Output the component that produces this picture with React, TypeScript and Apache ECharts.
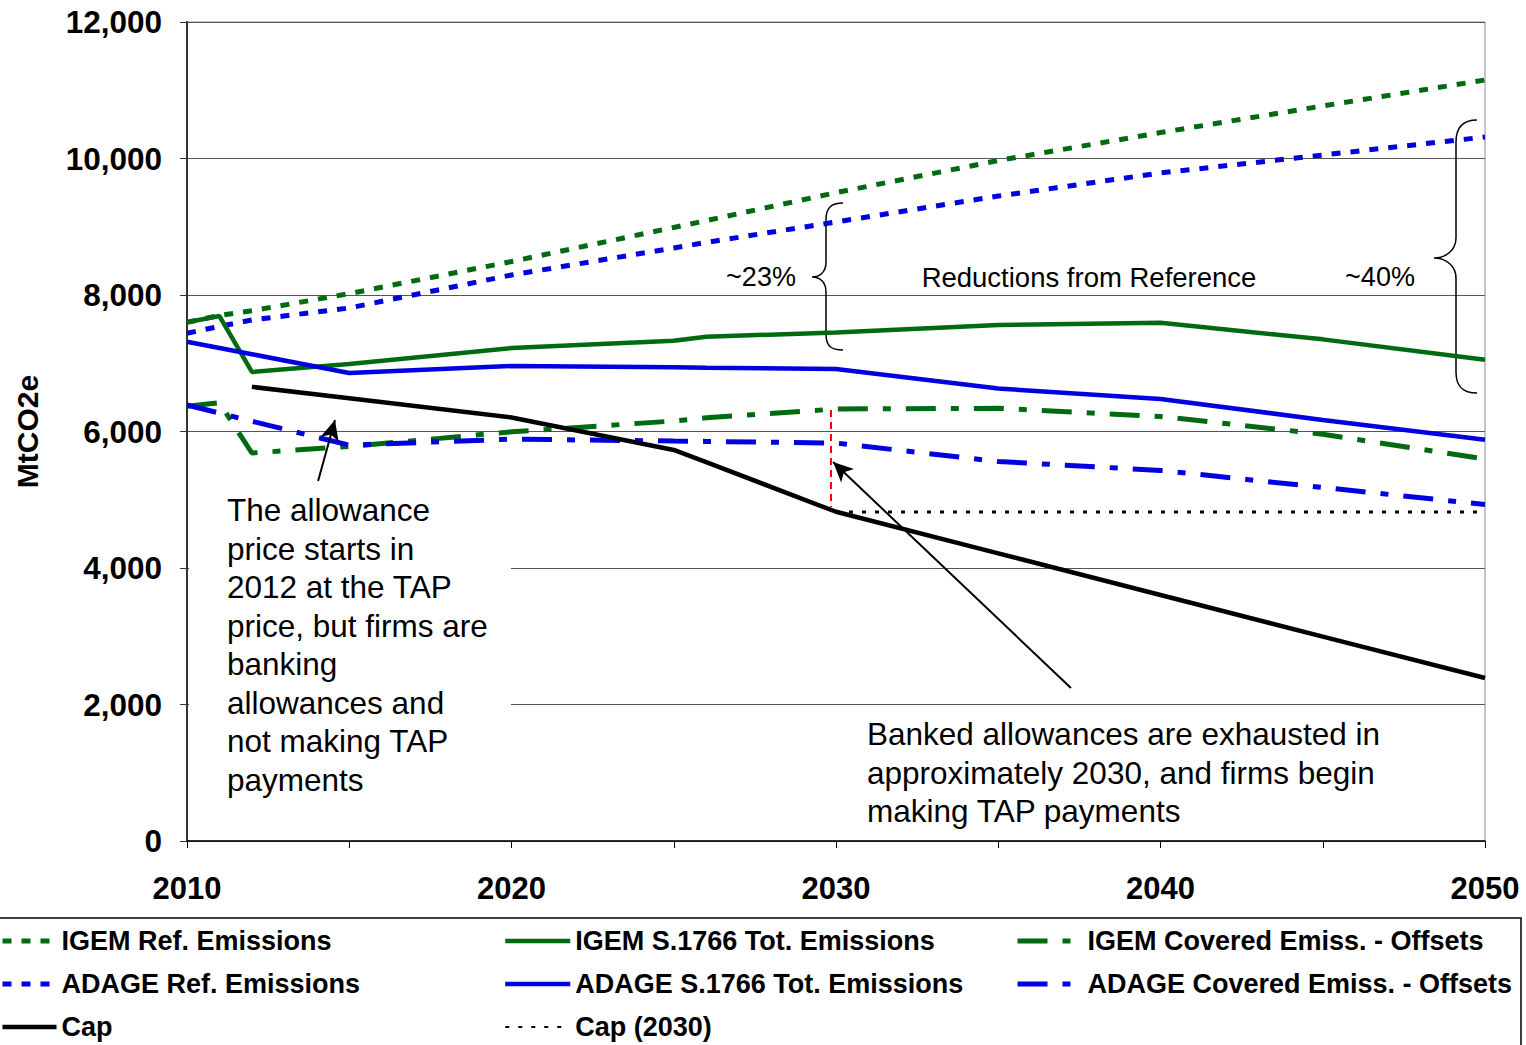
import React, { useEffect, useRef } from "react";
import * as echarts from "echarts";

const FONT = "Liberation Sans, Arial, sans-serif";

const years = [2010, 2011, 2012, 2015, 2020, 2025, 2026, 2030, 2035, 2040, 2045, 2050];
const igemRef = [7600, 7700, 7770, 8020, 8490, 8990, 9090, 9500, 9970, 10380, 10770, 11150];
const adageRef = [7440, 7540, 7634, 7810, 8293, 8689, 8770, 9070, 9450, 9788, 10051, 10315];
const igemTot = [7600, 7692, 6872, 6989, 7223, 7330, 7389, 7450, 7560, 7594, 7350, 7050];
const adageTot = [7316, 7224, 7132, 6857, 6960, 6940, 6935, 6916, 6630, 6476, 6170, 5880];
const igemCov = [6370, 6420, 5685, 5780, 5995, 6154, 6200, 6330, 6340, 6220, 5960, 5597];
const adageCov = [6388, 6270, 6150, 5800, 5888, 5860, 5855, 5831, 5560, 5430, 5180, 4930];
const cap = [null, null, 6654, 6486, 6205, 5730, 5550, 4824, 4215, 3604, 2995, 2388];
const cap2030 = [null, null, null, null, null, null, null, 4820, 4820, 4820, 4820, 4820];

const yTicks = { min: 0, max: 12000, interval: 2000 };
const xTicks = { min: 2010, max: 2050, interval: 10 };

const seriesNames = {
  igemRef: "IGEM Ref. Emissions",
  adageRef: "ADAGE Ref. Emissions",
  cap: "Cap",
  igemTot: "IGEM S.1766 Tot. Emissions",
  adageTot: "ADAGE S.1766 Tot. Emissions",
  cap2030: "Cap (2030)",
  igemCov: "IGEM Covered Emiss. - Offsets",
  adageCov: "ADAGE Covered Emiss. - Offsets",
};

// annotation anchor points (data coordinates)
const arrow1 = [[2014.04, 5275], [2014.56, 6168]];
const arrow2 = [[2037.24, 2242], [2029.91, 5553]];
const redLine = [[2029.85, 6315], [2029.85, 4894]];

const leftNote = "The allowance\nprice starts in\n2012 at the TAP\nprice, but firms are\nbanking\nallowances and\nnot making TAP\npayments";
const rightNote = "Banked allowances are exhausted in\napproximately 2030, and firms begin\nmaking TAP payments";

const GREEN = "#006a10";
const BLUE = "#0000e0";

echarts.graphic.registerShape(
  "brace1",
  echarts.graphic.extendPath(
    "M843,203 C831,203 826,208 826,220 L826,262 C826,272 820,277 812,277 C820,277 826,282 826,292 L826,334 C826,346 831,350 843,350",
    {}
  )
);
echarts.graphic.registerShape(
  "brace2",
  echarts.graphic.extendPath(
    "M1477,120 C1462,120 1456,128 1456,142 L1456,238 C1456,250 1446,258 1434,258 C1446,258 1456,266 1456,278 L1456,372 C1456,386 1462,393 1477,393",
    {}
  )
);

function pairs(vals: (number | null)[]) {
  const out: [number, number][] = [];
  vals.forEach((v, i) => {
    if (v !== null) out.push([years[i], v]);
  });
  return out;
}

function lineSeries(name: string, vals: (number | null)[], color: string, type: any, width: number, extra: any = {}) {
  return {
    name,
    type: "line",
    data: pairs(vals),
    symbol: "none",
    lineStyle: { color, type, width, cap: "butt" },
    itemStyle: { color },
    ...extra,
  };
}

function legendItem(name: string, width: number) {
  return { name, itemStyle: { opacity: 0 }, lineStyle: { width } };
}

export default function App() {
  const ref = useRef<HTMLDivElement>(null);
  useEffect(() => {
    const chart = echarts.init(ref.current!, null, { renderer: "svg" });
    const legendBase = {
      orient: "vertical",
      top: 926,
      padding: 0,
      itemHeight: 14,
      itemGap: 13,
      selectedMode: false,
      itemStyle: { opacity: 0 },
      textStyle: { fontFamily: FONT, fontSize: 27, fontWeight: "bold", color: "#000", lineHeight: 30 },
    };
    const option = {
      animation: false,
      backgroundColor: "#fff",
      grid: {
        left: 187,
        right: 41,
        top: 22,
        bottom: 204,
        show: true,
        borderColor: "#8c8c8c",
        borderWidth: 1,
        containLabel: false,
        outerBoundsMode: "none",
      },
      xAxis: {
        type: "value",
        min: xTicks.min,
        max: xTicks.max,
        interval: xTicks.interval,
        axisLine: { show: true, lineStyle: { color: "#000", width: 1.5 } },
        axisTick: { show: true, length: 7, lineStyle: { color: "#000" } },
        minorTick: { show: true, splitNumber: 2, length: 7, lineStyle: { color: "#000" } },
        splitLine: { show: false },
        axisLabel: {
          formatter: (v: number) => String(v),
          fontFamily: FONT,
          fontSize: 31,
          fontWeight: "bold",
          color: "#000",
          margin: 32,
        },
      },
      yAxis: {
        type: "value",
        min: yTicks.min,
        max: yTicks.max,
        interval: yTicks.interval,
        name: "MtCO2e",
        nameLocation: "middle",
        nameGap: 145,
        nameRotate: 90,
        nameTextStyle: { fontFamily: FONT, fontSize: 30, fontWeight: "bold", color: "#000" },
        axisLine: { show: true, lineStyle: { color: "#333", width: 2 } },
        axisTick: { show: true, length: 7, lineStyle: { color: "#333" } },
        splitLine: { show: true, lineStyle: { color: "#555", width: 1 } },
        axisLabel: { fontFamily: FONT, fontSize: 31.5, fontWeight: "bold", color: "#000", margin: 25 },
      },
      legend: [
        {
          ...legendBase,
          left: 0,
          itemWidth: 54,
          data: [legendItem(seriesNames.igemRef, 5), legendItem(seriesNames.adageRef, 5), legendItem(seriesNames.cap, 4.5)],
        },
        {
          ...legendBase,
          left: 503,
          itemWidth: 65,
          data: [legendItem(seriesNames.igemTot, 4.5), legendItem(seriesNames.adageTot, 4.5), legendItem(seriesNames.cap2030, 2)],
        },
        {
          ...legendBase,
          left: 1015,
          itemWidth: 65,
          data: [legendItem(seriesNames.igemCov, 5), legendItem(seriesNames.adageCov, 5)],
        },
      ],
      series: [
        lineSeries(seriesNames.igemRef, igemRef, GREEN, [9, 10], 5),
        lineSeries(seriesNames.adageRef, adageRef, BLUE, [9, 10], 5),
        lineSeries(seriesNames.igemTot, igemTot, GREEN, "solid", 4.5),
        lineSeries(seriesNames.adageTot, adageTot, BLUE, "solid", 4.5),
        lineSeries(seriesNames.igemCov, igemCov, GREEN, [30, 15, 8, 15], 5),
        lineSeries(seriesNames.adageCov, adageCov, BLUE, [30, 15, 8, 15], 5),
        lineSeries(seriesNames.cap2030, cap2030, "#000", [4, 9], 3),
        lineSeries(seriesNames.cap, cap, "#000", "solid", 4.5, {
          markLine: {
            silent: true,
            animation: false,
            label: { show: false },
            symbolSize: [14, 20],
            data: [
              [
                { coord: arrow1[0], symbol: "none", lineStyle: { color: "#000", width: 2, type: "solid" } },
                { coord: arrow1[1], symbol: "arrow" },
              ],
              [
                { coord: arrow2[0], symbol: "none", lineStyle: { color: "#000", width: 2, type: "solid" } },
                { coord: arrow2[1], symbol: "arrow" },
              ],
              [
                { coord: redLine[0], symbol: "none", lineStyle: { color: "#ff0000", width: 2, type: [7, 5] } },
                { coord: redLine[1], symbol: "none" },
              ],
            ],
          },
        }),
      ],
      graphic: [
        { type: "rect", z: 1, shape: { x: 189, y: 490, width: 322, height: 312 }, style: { fill: "#fff" } },
        {
          type: "text",
          z: 3,
          x: 227,
          y: 491,
          style: { text: leftNote, fontFamily: FONT, fontSize: 31.5, lineHeight: 38.5, fill: "#000" },
        },
        {
          type: "text",
          z: 3,
          x: 867,
          y: 715,
          style: { text: rightNote, fontFamily: FONT, fontSize: 31.5, lineHeight: 38.5, fill: "#000" },
        },
        {
          type: "text",
          z: 3,
          x: 761,
          y: 277,
          style: { text: "~23%", fontFamily: FONT, fontSize: 27, fill: "#000", align: "center", verticalAlign: "middle" },
        },
        {
          type: "text",
          z: 3,
          x: 1089,
          y: 277,
          style: { text: "Reductions from Reference", fontFamily: FONT, fontSize: 27.5, fill: "#000", align: "center", verticalAlign: "middle" },
        },
        {
          type: "text",
          z: 3,
          x: 1380,
          y: 277,
          style: { text: "~40%", fontFamily: FONT, fontSize: 27, fill: "#000", align: "center", verticalAlign: "middle" },
        },
        { type: "brace1", z: 3, style: { stroke: "#000", fill: null, lineWidth: 1.5 } },
        { type: "brace2", z: 3, style: { stroke: "#000", fill: null, lineWidth: 1.5 } },
        {
          type: "rect",
          z: 3,
          shape: { x: -2, y: 918, width: 1523, height: 140 },
          style: { stroke: "#000", fill: null, lineWidth: 1.5 },
        },
      ],
    };
    chart.setOption(option as any);
    return () => chart.dispose();
  }, []);
  return <div ref={ref} style={{ position: "absolute", left: 0, top: 0, width: 1526, height: 1045 }} />;
}
